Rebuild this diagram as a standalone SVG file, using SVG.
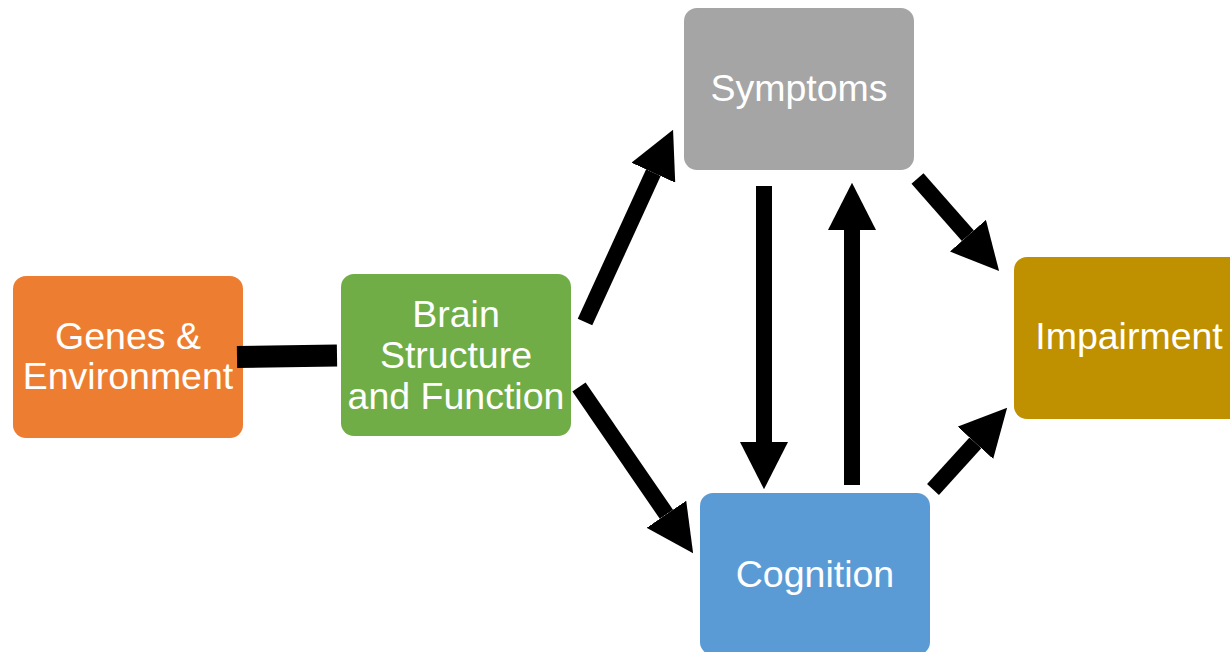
<svg xmlns="http://www.w3.org/2000/svg" width="1230" height="652" viewBox="0 0 1230 652">
  <defs>
    <style>
      .box { stroke: none; }
      .label { font-family: "Liberation Sans", Arial, sans-serif; font-size: 37.5px; fill: #FFFFFF; text-anchor: middle; }
      .shaft { stroke: #000000; stroke-width: 16; fill: none; stroke-linecap: butt; }
    </style>
    <!-- arrowhead: base sits at the end of the shaft, 3x shaft width -->
    <marker id="head" viewBox="0 0 3 3" refX="0" refY="1.5" markerWidth="3" markerHeight="3" orient="auto" markerUnits="strokeWidth">
      <path d="M0,0 L2.95,1.5 L0,3 Z" fill="#000000"/>
    </marker>
  </defs>

  <rect width="1230" height="652" fill="#FFFFFF"/>

  <g id="genes">
    <rect class="box" x="13" y="276" width="230" height="162" rx="13" fill="#ED7D31"/>
    <text class="label" x="128" y="349">Genes &amp;</text>
    <text class="label" x="128" y="389">Environment</text>
  </g>

  <g id="brain">
    <rect class="box" x="341" y="274" width="230" height="162" rx="13" fill="#70AD47"/>
    <text class="label" x="456" y="327">Brain</text>
    <text class="label" x="456" y="368">Structure</text>
    <text class="label" x="456" y="409">and Function</text>
  </g>

  <g id="symptoms">
    <rect class="box" x="684" y="8" width="230" height="162" rx="13" fill="#A5A5A5"/>
    <text class="label" x="799" y="101">Symptoms</text>
  </g>

  <g id="cognition">
    <rect class="box" x="700" y="493" width="230" height="162" rx="13" fill="#5B9BD5"/>
    <text class="label" x="815" y="587">Cognition</text>
  </g>

  <g id="impairment">
    <rect class="box" x="1014" y="257" width="230" height="162" rx="13" fill="#BF9000"/>
    <text class="label" x="1129" y="349">Impairment</text>
  </g>

  <!-- drawn last so the link bar overlaps the edge of the left box -->
  <g id="connectors">
    <line x1="237" y1="357" x2="337" y2="355.5" stroke="#000000" stroke-width="22"/>
    <line class="shaft" x1="585" y1="322" x2="653.4" y2="172.7" marker-end="url(#head)"/>
    <line class="shaft" x1="579" y1="387" x2="666.4" y2="514.3" marker-end="url(#head)"/>
    <line class="shaft" x1="764" y1="186" x2="764" y2="442" marker-end="url(#head)"/>
    <line class="shaft" x1="852" y1="485" x2="852" y2="230" marker-end="url(#head)"/>
    <line class="shaft" x1="917.5" y1="178.5" x2="967.9" y2="235.7" marker-end="url(#head)"/>
    <line class="shaft" x1="933" y1="489.5" x2="975.4" y2="442.8" marker-end="url(#head)"/>
  </g>
</svg>
